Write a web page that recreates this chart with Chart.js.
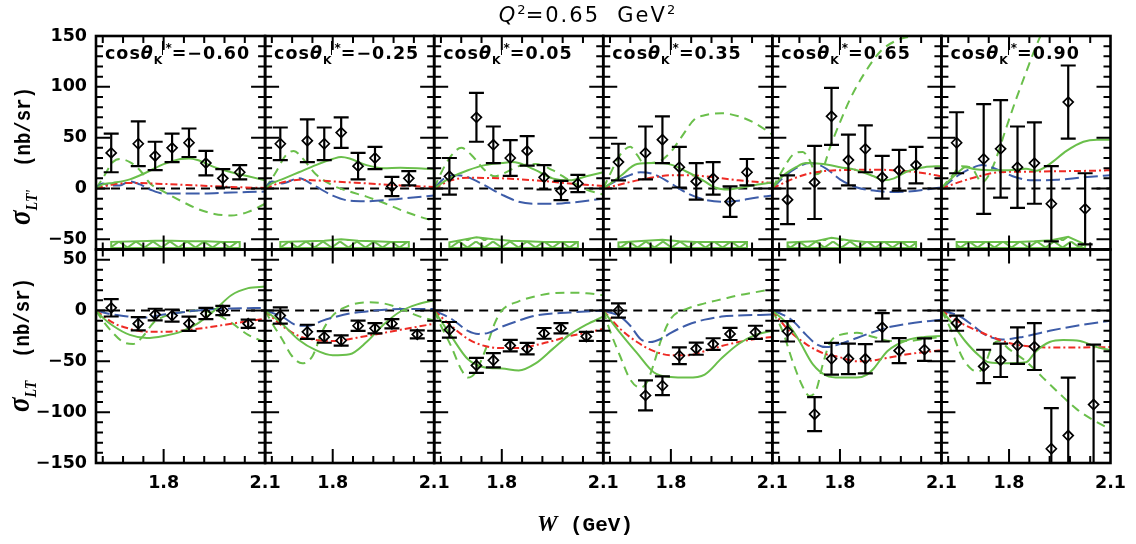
<!DOCTYPE html>
<html lang="en">
<head>
<meta charset="UTF-8" />
<meta name="viewport" content="width=device-width, initial-scale=1.0" />
<title>sigma_LT' and sigma_LT versus W at Q2 = 0.65 GeV2</title>
<script src="https://cdn.jsdelivr.net/npm/chart.js@4.4.1/dist/chart.umd.min.js"></script>
<style>
  body { margin: 0; background: #fff; }
  #wrap { position: relative; width: 1136px; height: 544px; overflow: hidden; }
  #chart { position: absolute; left: 0; top: 0; }
  .txt { position: absolute; white-space: nowrap; color: #000; line-height: 20px; }
  .plab { font: bold 17.5px "DejaVu Sans"; letter-spacing: 1px; }
  .plab i { font-style: oblique; }
  .plab sub { font-size: 11px; vertical-align: -5px; line-height: 0; letter-spacing: 0; }
  .plab sup { font-size: 12px; vertical-align: 7px; line-height: 0; border-left: 1px solid #000; padding-left: 2px; letter-spacing: 0; }
  #title { font-family: "DejaVu Sans"; font-size: 21px; letter-spacing: 2px; left: 587px; top: 3px; transform: translateX(-50%); line-height: 24px; }
  #title i { font-style: oblique; }
  #title sup { font-size: 13px; vertical-align: 8px; line-height: 0; letter-spacing: 0; }
  #xtitle { left: 585px; top: 511px; transform: translateX(-50%); font: bold 21px "Liberation Mono"; }
  #xtitle i { font: bold italic 23px "Liberation Serif"; }
  .ytitle { font: bold 19px "Liberation Mono"; transform: translate(-50%, -50%) rotate(-90deg) scaleY(1.2); }
  .ytitle i { font: bold italic 27px "Liberation Serif"; }
  .ytitle sub { font: bold italic 14px "Liberation Serif"; vertical-align: -6px; line-height: 0; }
</style>
</head>
<body>
<div id="wrap">
  <canvas id="chart" width="1136" height="544"></canvas>
  <div id="title" class="txt"><i>Q</i><sup>2</sup>=0.65&nbsp; GeV<sup>2</sup></div>
  <div id="xtitle" class="txt"><i>W</i> (GeV)</div>
  <div id="ytop" class="txt ytitle" style="left:20px; top:156px;"><i>σ</i><sub>LT'</sub>&nbsp;&nbsp;(nb/sr)</div>
  <div id="ybot" class="txt ytitle" style="left:19px; top:345px;"><i>σ</i><sub>LT</sub>&nbsp;&nbsp;(nb/sr)</div>
</div>

<script>
// panels: cos(theta_K*) bins, W in GeV, cross sections in nb/sr
const COS_LABELS = ['−0.60', '−0.25', '0.05', '0.35', '0.65', '0.90'];
const W_RANGE = [1.6, 2.1];
const X_LABEL_TICKS = [1.8, 2.1];
const X_MAJOR = [1.8];
const X_MINOR = [1.62, 1.68, 1.74, 1.86, 1.92, 1.98, 2.04];
const YT_RANGE = [-60, 150];
const YB_RANGE = [-150, 60];
const YT_LABELS = [-50, 0, 50, 100, 150];
const YB_LABELS = [-150, -100, -50, 0, 50];

const W_TOP = [1.645, 1.725, 1.775, 1.825, 1.875, 1.925, 1.975, 2.025];
const W_BOT = [1.645, 1.725, 1.775, 1.825, 1.875, 1.925, 1.975, 2.05];

// sigma_LT' (top row)
const LTP_VAL = [
  [35, 44, 32, 40, 45, 25, 10, 16],
  [44, 47, 44, 55, 22, 30, 2, 10],
  [12, 70, 43, 30, 37, 11, -2, 5],
  [26, 35, 48, 21, 7, 10, -13, 16],
  [-11, 6, 71, 28, 39, 11, 18, 23],
  [45, 29, 39, 21, 25, -15, 85, -20]
];
const LTP_ERR = [
  [19, 22, 14, 14, 14, 12, 9, 7],
  [16, 21, 16, 15, 13, 11, 9.5, 7],
  [18, 24, 18, 17.5, 14.5, 12, 9.5, 8.5],
  [18, 26, 23, 20, 18, 16, 15, 13],
  [24, 36, 28, 25, 23, 21, 20, 18],
  [30, 54, 48, 40, 40, 37, 36, 35]
];
// systematic band (top row), upper edge
const BAND_TOP = [
  [-52.5, -52, -51.5, -51.5, -52, -52, -52.5, -52.5],
  [-52.5, -52, -51.5, -50, -51.5, -52, -52.5, -52.5],
  [-53, -48, -50, -51.5, -52, -52.5, -52.5, -52.5],
  [-53, -51.5, -50.5, -52, -52.5, -52.5, -52.5, -52.5],
  [-53, -52, -48.5, -51, -52.5, -52.5, -52.5, -52.5],
  [-52.5, -52.5, -52.5, -52.5, -52, -51, -47.5, -55]
];
const BAND_BASE = -58.5;

// sigma_LT (bottom row)
const LT_VAL = [
  [2.6, -13, -4, -5, -13, -3, 0, -13],
  [-5, -21, -26, -29.5, -15, -17.5, -13, -23.5],
  [-19, -54, -49, -34.5, -37.5, -22.5, -17.5, -25.5],
  [0, -83.5, -74, -44.5, -37.5, -33, -23, -21.5],
  [-20.5, -102, -47.5, -47.5, -47.5, -16.5, -39.5, -38.5],
  [-12.5, -55, -49, -34.5, -35.5, -136, -123, -92.5]
];
const LT_ERR = [
  [8.5, 6.5, 5.7, 6, 7, 5.5, 4.5, 4],
  [8, 7, 5.7, 5, 5, 5, 4.5, 4],
  [7.7, 7.4, 7, 5.7, 5.6, 5.3, 5, 4.4],
  [7, 14.8, 9.3, 8.2, 6, 5.7, 6, 6.5],
  [10, 16.7, 15.6, 15, 14.4, 14, 12.3, 11],
  [7.4, 16.4, 16.4, 18, 23, 40, 57, 59]
];

// model curves, [W, value]
const LTP_GS = [
  [[1.6,0],[1.62,4],[1.65,5.5],[1.7,9],[1.75,16],[1.8,24],[1.85,29],[1.875,29.5],[1.9,28],[1.95,21],[2.0,16],[2.05,12],[2.1,8]],
  [[1.6,0],[1.62,5],[1.65,9],[1.7,16],[1.75,23],[1.8,29],[1.825,31],[1.85,29.5],[1.9,23],[1.95,20],[2.0,20.5],[2.05,20],[2.1,19]],
  [[1.6,0],[1.63,7],[1.65,11],[1.7,18],[1.75,23],[1.8,25],[1.83,26],[1.85,25],[1.9,18],[1.95,10],[2.0,8],[2.05,12],[2.1,16]],
  [[1.6,0],[1.63,7],[1.65,12],[1.7,24],[1.75,25],[1.8,23.5],[1.85,16],[1.9,7],[1.93,1],[1.97,-1],[2.0,0.5],[2.05,3.5],[2.1,6]],
  [[1.6,0],[1.63,12],[1.67,21],[1.7,25],[1.75,24],[1.8,21],[1.85,18],[1.9,12],[1.93,8],[1.96,10],[2.0,17],[2.05,21],[2.1,22]],
  [[1.6,0],[1.63,10],[1.65,16],[1.67,21],[1.7,19],[1.75,18],[1.8,18],[1.85,19.5],[1.88,17.5],[1.92,24],[1.97,37],[2.02,46],[2.06,48],[2.1,48]]
];
const LTP_GD = [
  [[1.6,0],[1.62,10],[1.65,26],[1.67,29],[1.7,26],[1.73,18],[1.76,5],[1.8,-3],[1.85,-12],[1.9,-20],[1.95,-25],[2.0,-26.5],[2.05,-23],[2.1,-15]],
  [[1.6,0],[1.63,15],[1.66,32],[1.685,37],[1.71,30],[1.75,14],[1.8,3],[1.85,-3],[1.9,-8],[1.95,-14],[2.0,-21],[2.05,-27],[2.1,-32]],
  [[1.6,0],[1.62,15],[1.65,32],[1.68,40],[1.71,33],[1.75,18],[1.78,12],[1.8,14],[1.85,22],[1.9,24],[1.95,18],[2.0,8],[2.05,-1],[2.1,-6]],
  [[1.6,0],[1.62,14],[1.65,33],[1.68,41],[1.7,33],[1.72,25],[1.76,26],[1.8,36],[1.83,50],[1.87,68],[1.9,72],[1.95,74],[2.0,71],[2.05,64],[2.1,53]],
  [[1.6,0],[1.63,18],[1.66,33],[1.69,36],[1.71,28],[1.73,14],[1.75,20],[1.77,40],[1.8,65],[1.83,88],[1.87,112],[1.92,135],[1.97,146],[2.02,150],[2.07,152],[2.1,153]],
  [[1.6,0],[1.63,12],[1.66,22],[1.69,20],[1.72,6],[1.74,13],[1.76,28],[1.79,58],[1.82,87],[1.85,114],[1.88,140],[1.91,162],[1.95,185]]
];
const LTP_BL = [
  [[1.6,0],[1.62,5],[1.64,3],[1.67,3],[1.7,7],[1.73,4],[1.76,-1],[1.8,-5],[1.9,-5],[2.0,-4],[2.1,-3]],
  [[1.6,0],[1.62,7],[1.65,5],[1.7,10],[1.75,2],[1.8,-7],[1.85,-12],[1.9,-12.5],[2.0,-10],[2.1,-7]],
  [[1.6,0],[1.63,10],[1.67,13],[1.7,11],[1.75,3],[1.8,-6],[1.85,-13],[1.9,-15],[1.95,-15],[2.0,-14],[2.1,-10]],
  [[1.6,0],[1.63,6],[1.67,12],[1.71,16],[1.75,14],[1.8,5],[1.85,-5],[1.9,-11],[1.95,-13],[2.0,-12],[2.05,-9],[2.1,-7]],
  [[1.6,0],[1.63,10],[1.67,20],[1.71,25],[1.74,23],[1.77,17],[1.8,9],[1.85,1],[1.9,-2],[1.95,-3.5],[2.0,-3],[2.1,1]],
  [[1.6,0],[1.65,13],[1.69,20],[1.72,23],[1.77,18],[1.82,11],[1.87,8],[1.94,8.5],[2.02,11],[2.1,13]]
];
const LTP_RD = [
  [[1.6,0],[1.65,4],[1.7,5.5],[1.8,4.5],[1.9,3],[2.0,1.5],[2.1,0.5]],
  [[1.6,0],[1.65,6],[1.7,8.5],[1.8,7],[1.9,5],[2.0,3],[2.1,1.5]],
  [[1.6,0],[1.65,8],[1.7,10.5],[1.8,10],[1.9,8],[2.0,5],[2.1,2.5]],
  [[1.6,0],[1.65,4],[1.7,8],[1.75,11],[1.8,13],[1.85,13],[1.9,12],[1.95,10],[2.0,8],[2.1,5.5]],
  [[1.6,0],[1.65,8],[1.7,14],[1.75,17],[1.8,18],[1.9,18.5],[2.0,17],[2.05,15],[2.1,12]],
  [[1.6,0],[1.65,6],[1.7,11],[1.77,16],[1.85,16.5],[1.95,17],[2.05,17.5],[2.1,18]]
];

const LT_GS = [
  [[1.6,0],[1.62,-7],[1.65,-15],[1.7,-24],[1.75,-27],[1.8,-25],[1.85,-21],[1.9,-13],[1.95,0],[2.0,15],[2.05,22],[2.1,23.5]],
  [[1.6,0],[1.65,-13],[1.7,-29],[1.75,-39],[1.8,-44],[1.85,-43],[1.9,-31],[1.95,-14],[2.0,-1],[2.05,6],[2.1,10]],
  [[1.6,0],[1.65,-25],[1.7,-48],[1.75,-56],[1.8,-57],[1.85,-59],[1.9,-52],[1.95,-38],[2.0,-24],[2.05,-14],[2.1,-6]],
  [[1.6,0],[1.65,-22],[1.7,-42],[1.75,-61],[1.8,-65.5],[1.85,-66],[1.9,-63],[1.95,-47],[2.0,-33],[2.05,-24],[2.1,-20]],
  [[1.6,0],[1.65,-15],[1.68,-30],[1.72,-53],[1.76,-64],[1.8,-66],[1.85,-66],[1.88,-63],[1.9,-57],[1.94,-40],[2.0,-29],[2.05,-26],[2.1,-25]],
  [[1.6,0],[1.63,-12],[1.67,-30],[1.71,-44],[1.74,-51],[1.79,-52],[1.85,-51],[1.88,-40],[1.92,-31],[1.96,-29],[2.01,-30],[2.06,-36],[2.1,-39]]
];
const LT_GD = [
  [[1.6,0],[1.62,-10],[1.65,-22],[1.68,-31],[1.71,-33],[1.74,-25],[1.77,-12],[1.8,-6],[1.85,-2],[1.9,0],[1.95,-3],[2.0,-12],[2.05,-24],[2.1,-31]],
  [[1.6,0],[1.62,-12],[1.65,-28],[1.68,-45],[1.71,-52],[1.74,-45],[1.77,-20],[1.8,-5],[1.85,5],[1.9,8],[1.95,7],[2.0,2],[2.05,-5],[2.1,-10]],
  [[1.6,0],[1.62,-15],[1.65,-35],[1.68,-58],[1.7,-66],[1.72,-62],[1.75,-40],[1.78,-12],[1.8,0],[1.85,9],[1.9,14],[1.95,17],[2.0,17.5],[2.05,17],[2.1,15]],
  [[1.6,0],[1.62,-20],[1.65,-45],[1.68,-68],[1.71,-76],[1.73,-70],[1.75,-52],[1.77,-30],[1.8,-8],[1.85,2],[1.9,7],[1.95,11],[2.0,15],[2.05,18],[2.1,21]],
  [[1.6,0],[1.63,-20],[1.66,-50],[1.69,-75],[1.71,-84],[1.73,-78],[1.75,-52],[1.77,-32],[1.8,-24],[1.85,-22],[1.9,-26],[1.95,-30],[2.0,-30],[2.05,-28],[2.1,-26]],
  [[1.6,0],[1.63,-20],[1.66,-45],[1.69,-58],[1.71,-60],[1.73,-52],[1.75,-35],[1.77,-30],[1.8,-38],[1.85,-50],[1.9,-66],[1.95,-82],[2.0,-97],[2.05,-108],[2.1,-117]]
];
const LT_BL = [
  [[1.6,0],[1.65,-4],[1.7,-6],[1.74,-7],[1.8,-4],[1.85,-2],[1.9,0],[2.0,2],[2.1,2.5]],
  [[1.6,0],[1.65,-6],[1.7,-15],[1.73,-15],[1.77,-10],[1.8,-7],[1.85,-3],[1.9,-1],[2.0,1.5],[2.1,1.5]],
  [[1.6,0],[1.65,-8],[1.7,-20],[1.73,-23],[1.76,-22],[1.8,-16],[1.85,-10],[1.9,-5],[2.0,-2],[2.1,0]],
  [[1.6,0],[1.65,-6],[1.68,-15],[1.71,-28],[1.74,-31],[1.77,-28],[1.8,-22],[1.85,-14],[1.9,-9],[1.95,-6],[2.0,-5],[2.1,-4]],
  [[1.6,0],[1.63,-4],[1.66,-10],[1.7,-24],[1.73,-33],[1.76,-36],[1.8,-33],[1.85,-27],[1.9,-21],[1.95,-16],[2.0,-13],[2.1,-9]],
  [[1.6,0],[1.65,-5],[1.69,-14],[1.73,-24],[1.78,-28.5],[1.84,-26],[1.92,-20],[2.0,-15],[2.1,-10]]
];
const LT_RD = [
  [[1.6,0],[1.65,-12],[1.7,-18],[1.75,-21],[1.8,-21],[1.9,-18],[2.0,-13],[2.1,-8]],
  [[1.6,0],[1.65,-15],[1.7,-25],[1.75,-29],[1.8,-30],[1.9,-25],[2.0,-19],[2.1,-13]],
  [[1.6,0],[1.65,-15],[1.7,-28],[1.75,-35],[1.8,-37],[1.85,-37],[1.9,-34],[1.95,-30],[2.0,-25],[2.05,-22],[2.1,-18]],
  [[1.6,0],[1.65,-18],[1.7,-31],[1.75,-40],[1.8,-44],[1.85,-44],[1.9,-40],[1.95,-35],[2.0,-31],[2.05,-28],[2.1,-26]],
  [[1.6,0],[1.65,-20],[1.7,-33],[1.75,-42],[1.8,-46],[1.85,-50],[1.9,-49],[1.95,-46],[2.0,-43],[2.05,-41],[2.1,-39]],
  [[1.6,0],[1.65,-11],[1.7,-19],[1.75,-26],[1.8,-32],[1.85,-35],[1.95,-36.5],[2.1,-36]]
];

const GREEN = '#6abf4b';
const BLUE = '#3d5ca8';
const RED = '#ee2a24';
const tickFont = { family: 'DejaVu Sans', size: 17.5, weight: 'bold' };

// zig-zag hatch of the systematic band
const hatchCanvas = document.createElement('canvas');
hatchCanvas.width = 17; hatchCanvas.height = 7;
const hg = hatchCanvas.getContext('2d');
hg.strokeStyle = GREEN; hg.lineWidth = 2;
hg.beginPath(); hg.moveTo(0, 0.5); hg.lineTo(8.5, 6.5); hg.lineTo(17, 0.5); hg.stroke();
const hatch = hg.createPattern(hatchCanvas, 'repeat');

const rows = [
  { y: 'yT', w: W_TOP, val: LTP_VAL, gs: LTP_GS, gd: LTP_GD, bl: LTP_BL, rd: LTP_RD },
  { y: 'yB', w: W_BOT, val: LT_VAL, gs: LT_GS, gd: LT_GD, bl: LT_BL, rd: LT_RD }
];

const toXY = arr => arr.map(([x, y]) => ({ x, y }));
const curve = (data, color, dash, order) => ({
  data: toXY(data), borderColor: color, borderWidth: 2, borderDash: dash,
  pointRadius: 0, cubicInterpolationMode: 'monotone', fill: false, clip: 0, order
});

const datasets = [];
for (let c = 0; c < 6; c++) {
  rows.forEach(r => {
    const ids = { xAxisID: 'x' + c, yAxisID: r.y };
    datasets.push({ ...ids, data: r.w.map((x, i) => ({ x, y: r.val[c][i] })), showLine: false,
      pointStyle: 'rectRot', pointRadius: 5, pointBorderWidth: 1.7, pointBorderColor: '#000',
      pointBackgroundColor: 'rgba(255,255,255,0)', clip: 0, order: 0 });
    datasets.push({ ...ids, ...curve(r.gs[c], GREEN, [], 1) });
    datasets.push({ ...ids, ...curve(r.rd[c], RED, [7, 3, 2, 3], 2) });
    datasets.push({ ...ids, ...curve(r.bl[c], BLUE, [14, 5], 3) });
    datasets.push({ ...ids, ...curve(r.gd[c], GREEN, [9, 6], 4) });
    datasets.push({ ...ids, data: W_RANGE.map(x => ({ x, y: 0 })), borderColor: '#000', borderWidth: 1.8,
      borderDash: [9, 6], pointRadius: 0, clip: 0, order: 5 });
    if (r.y === 'yT') {
      const w = W_TOP, t = BAND_TOP[c];
      const band = [{ x: w[0], y: BAND_BASE }].concat(w.map((x, i) => ({ x, y: t[i] })), [{ x: w[w.length - 1], y: BAND_BASE }]);
      datasets.push({ ...ids, data: band, borderColor: GREEN, borderWidth: 2, backgroundColor: hatch,
        fill: { value: BAND_BASE }, pointRadius: 0, tension: 0, clip: 0, order: 6 });
      datasets.push({ ...ids, data: [w[0], w[w.length - 1]].map(x => ({ x, y: BAND_BASE })), borderColor: GREEN,
        borderWidth: 2, pointRadius: 0, clip: 0, order: 6 });
    }
  });
}

const scales = {};
for (let c = 0; c < 6; c++) {
  scales['x' + c] = {
    type: 'linear', position: 'bottom', stack: 'cols', stackWeight: 1,
    min: W_RANGE[0], max: W_RANGE[1],
    grid: { display: false, drawTicks: false }, border: { display: false },
    afterBuildTicks: s => { s.ticks = X_LABEL_TICKS.map(v => ({ value: v })); },
    afterFit: s => { s.height = 81; },
    ticks: { autoSkip: false, maxRotation: 0, padding: 10, color: '#000', font: tickFont,
      callback: v => Number(v).toFixed(1) }
  };
}
const yScale = (range, labels) => ({
  type: 'linear', position: 'left', stack: 'rows', stackWeight: 1,
  min: range[0], max: range[1],
  grid: { display: false, drawTicks: false }, border: { display: false },
  afterBuildTicks: s => { s.ticks = labels.map(v => ({ value: v })); },
  afterFit: s => { s.width = 96; },
  ticks: { autoSkip: false, padding: 9, color: '#000', font: tickFont,
    callback: v => String(v).replace('-', '−') }
});
scales.yB = yScale(YB_RANGE, YB_LABELS);
scales.yT = yScale(YT_RANGE, YT_LABELS);

const panelPlugin = {
  id: 'panels',
  beforeDatasetsDraw(chart) {
    const base = chart.scales.yT.getPixelForValue(BAND_BASE);
    hatch.setTransform(new DOMMatrix([1, 0, 0, 1, 0, base - 7]));
  },
  afterDatasetsDraw(chart) {
    const ctx = chart.ctx;
    const sets = [['yT', W_TOP, LTP_VAL, LTP_ERR], ['yB', W_BOT, LT_VAL, LT_ERR]];
    ctx.save();
    ctx.strokeStyle = '#000';
    ctx.lineWidth = 2.2;
    for (let c = 0; c < 6; c++) {
      const xs = chart.scales['x' + c];
      sets.forEach(([yid, ws, vals, errs]) => {
        const ys = chart.scales[yid];
        ctx.save();
        ctx.beginPath();
        ctx.rect(xs.left, ys.top, xs.right - xs.left, ys.bottom - ys.top);
        ctx.clip();
        ctx.beginPath();
        ws.forEach((w, i) => {
          const px = xs.getPixelForValue(w);
          const hi = ys.getPixelForValue(vals[c][i] + errs[c][i]);
          const lo = ys.getPixelForValue(vals[c][i] - errs[c][i]);
          ctx.moveTo(px, hi); ctx.lineTo(px, lo);
          ctx.moveTo(px - 7.5, hi); ctx.lineTo(px + 7.5, hi);
          ctx.moveTo(px - 7.5, lo); ctx.lineTo(px + 7.5, lo);
        });
        ctx.stroke();
        ctx.restore();
      });
    }
    ctx.restore();
  },
  afterDraw(chart) {
    const ctx = chart.ctx;
    ctx.save();
    ctx.strokeStyle = '#000';
    for (let c = 0; c < 6; c++) {
      const xs = chart.scales['x' + c];
      [['yT', YT_RANGE], ['yB', YB_RANGE]].forEach(([yid, range]) => {
        const ys = chart.scales[yid];
        const L = xs.left, R = xs.right, T = ys.top, B = ys.bottom;
        ctx.beginPath();
        for (let v = range[0]; v <= range[1]; v += 10) {
          const py = ys.getPixelForValue(v);
          const len = v % 50 === 0 ? 14 : 7;
          ctx.moveTo(L, py); ctx.lineTo(L + len, py);
          ctx.moveTo(R, py); ctx.lineTo(R - len, py);
        }
        X_MINOR.forEach(w => {
          const px = xs.getPixelForValue(w);
          ctx.moveTo(px, B); ctx.lineTo(px, B - 7);
          ctx.moveTo(px, T); ctx.lineTo(px, T + 7);
        });
        X_MAJOR.forEach(w => {
          const px = xs.getPixelForValue(w);
          ctx.moveTo(px, B); ctx.lineTo(px, B - 14);
          ctx.moveTo(px, T); ctx.lineTo(px, T + 14);
        });
        ctx.lineWidth = 2;
        ctx.stroke();
        ctx.lineWidth = 2.6;
        ctx.strokeRect(L, T, R - L, B - T);
      });
    }
    ctx.restore();
  }
};

const chart = new Chart(document.getElementById('chart'), {
  type: 'line',
  data: { datasets },
  options: {
    responsive: false,
    animation: false,
    devicePixelRatio: 1,
    layout: { padding: { left: 0, right: 19, top: 36, bottom: 0 } },
    plugins: { legend: { display: false }, tooltip: { enabled: false }, title: { display: false } },
    scales
  },
  plugins: [panelPlugin]
});

// panel labels, placed from the axes
const wrap = document.getElementById('wrap');
COS_LABELS.forEach((lab, c) => {
  const d = document.createElement('div');
  d.className = 'txt plab';
  d.style.left = (chart.scales['x' + c].left + 9) + 'px';
  d.style.top = (chart.scales.yT.top + 7) + 'px';
  d.innerHTML = 'cos<i>θ</i><sub>K</sub><sup>*</sup>=' + lab;
  wrap.appendChild(d);
});
</script>
</body>
</html>
